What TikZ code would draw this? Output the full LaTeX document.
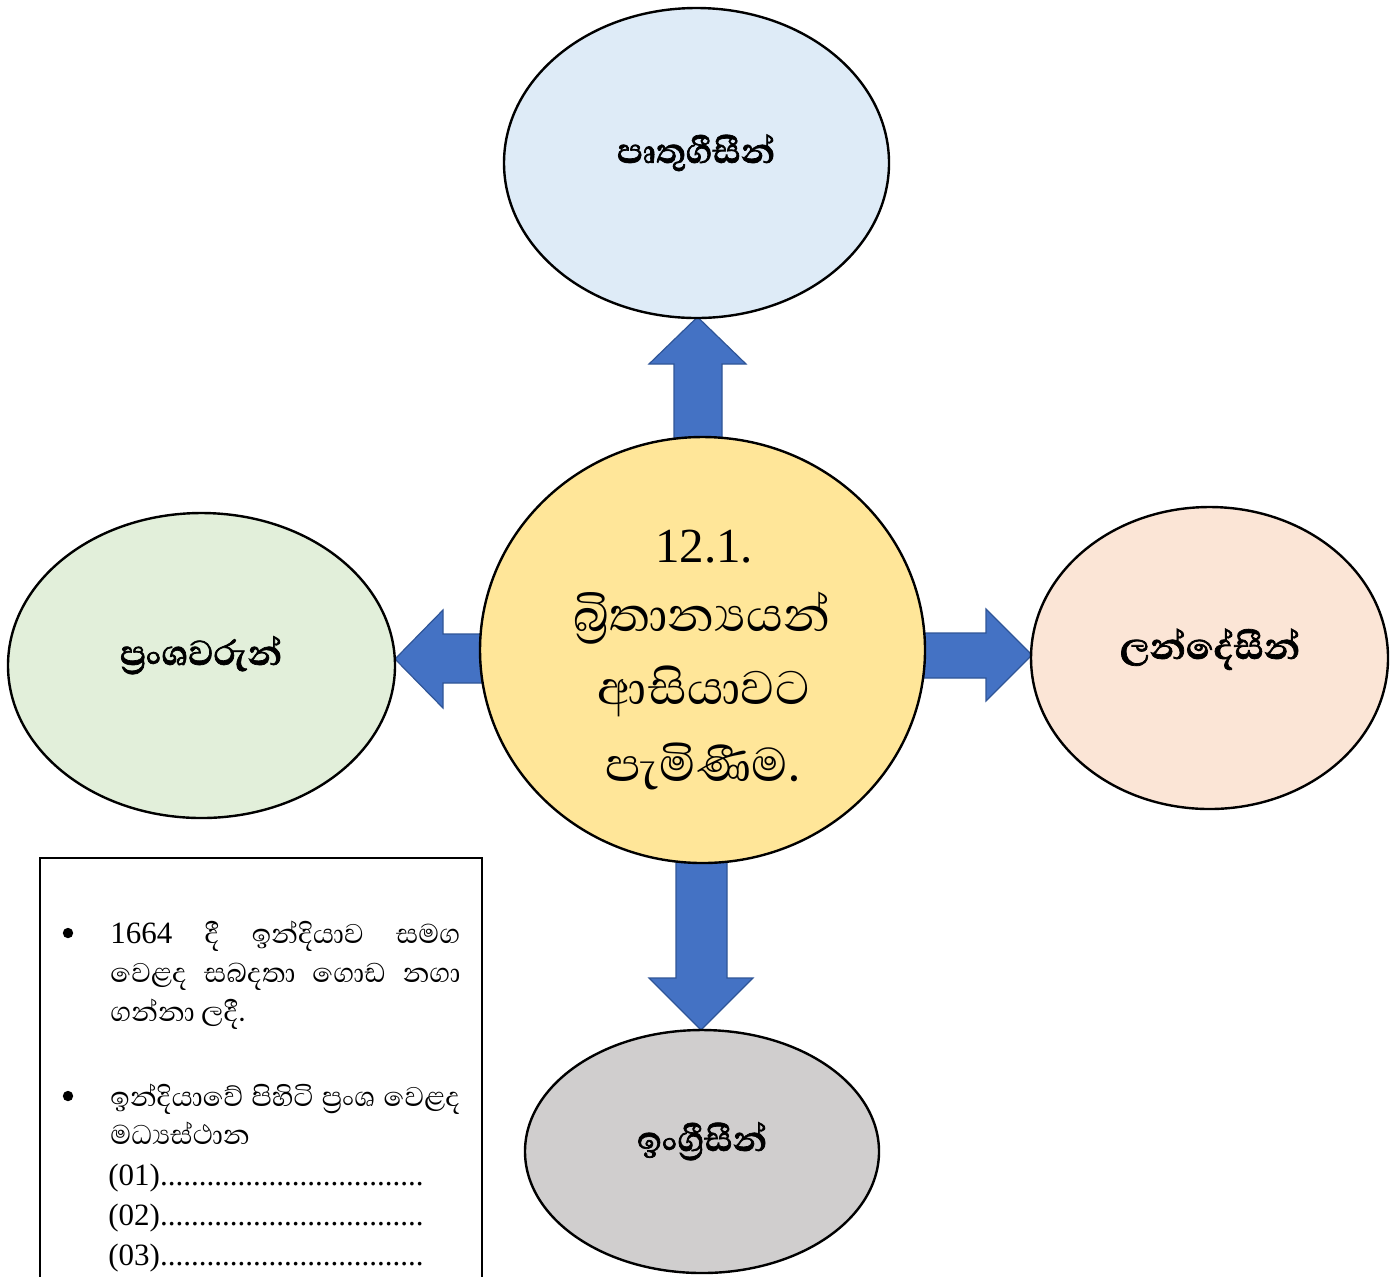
\documentclass[tikz,border=0pt]{standalone}
\usepackage{fontspec}
\usepackage{graphicx}
\usetikzlibrary{shapes.geometric}
\setmainfont{Liberation Serif}
\newfontfamily\sinf[Script=Sinhala]{Abhaya Libre}
\newfontfamily\sinbox[Script=Sinhala,Scale=1.12]{Abhaya Libre}
\newfontfamily\sinb[Script=Sinhala,BoldFeatures={FakeBold=1.6}]{Abhaya Libre}
\definecolor{cTop}{HTML}{DEEBF7}
\definecolor{cLeft}{HTML}{E2EFDA}
\definecolor{cRight}{HTML}{FBE5D6}
\definecolor{cBottom}{HTML}{D0CECE}
\definecolor{cCenter}{HTML}{FFE699}
\definecolor{cArrow}{HTML}{4472C4}
\definecolor{cArrowEdge}{HTML}{2F5597}
\tikzset{
  ell/.style={ellipse, draw=black, line width=1.2pt, inner sep=0pt},
  blockarrow/.style={fill=cArrow, draw=cArrowEdge, line width=0.6pt, line join=miter},
  lbl/.style={anchor=base, inner sep=0pt},
  boxtxt/.style={anchor=base west, inner sep=0pt, font=\fontsize{15.5}{20}\selectfont},
}
\begin{document}
\begin{tikzpicture}[x=0.5pt, y=-0.5pt]
\useasboundingbox (0,0) rectangle (1400,1276);
% block arrows (behind the circle)
\draw[blockarrow] (674,445) -- (674,364) -- (649,364) -- (697.5,317) -- (746,364) -- (722,364) -- (722,445) -- cycle;
\draw[blockarrow] (490,634) -- (443,634) -- (443,610) -- (395,659) -- (443,708) -- (443,683) -- (490,683) -- cycle;
\draw[blockarrow] (915,633) -- (986,633) -- (986,609) -- (1032,655) -- (986,701) -- (986,678) -- (915,678) -- cycle;
\draw[blockarrow] (676,855) -- (676,978) -- (649,978) -- (701,1030) -- (753,978) -- (727,978) -- (727,855) -- cycle;
% ellipses
\node[ell, fill=cTop, minimum width=192.5pt, minimum height=155pt] (top) at (696.5,163) {};
\node[ell, fill=cLeft, minimum width=193.5pt, minimum height=152.5pt] (left) at (201.5,665.5) {};
\node[ell, fill=cRight, minimum width=178.5pt, minimum height=151pt] (right) at (1209.5,658) {};
\node[ell, fill=cBottom, minimum width=177pt, minimum height=121.5pt] (bottom) at (702,1151.5) {};
\node[ell, fill=cCenter, minimum width=222.5pt, minimum height=213pt] (center) at (702.5,650) {};
% labels
\node[lbl] (ltop) at (696,163) {\resizebox{79pt}{!}{\sinb\bfseries පෘතුගීසීන්}};
\node[lbl] (lleft) at (201,665) {\resizebox{81pt}{!}{\sinb\bfseries ප්^^^^200dරංශවරුන්}};
\node[lbl] (lright) at (1210,659) {\resizebox{90pt}{!}{\sinb\bfseries ලන්දේසීන්}};
\node[lbl] (lbottom) at (702,1151) {\resizebox{65pt}{!}{\sinb\bfseries ඉංග්^^^^200dරීසීන්}};
% centre text
\node[lbl] (t1) at (704,562) {\fontsize{24.5}{30}\selectfont 12.1.};
\node[lbl] (t2) at (701.5,631) {\resizebox{128.5pt}{!}{\sinf බ්^^^^200dරිතාන්^^^^200dයයන්}};
\node[lbl] (t3) at (704,704) {\resizebox{106pt}{!}{\sinf ආසියාවට}};
\node[lbl] (t4) at (702.5,781) {\resizebox{97.5pt}{!}{\sinf පැමිණීම.}};
% text box
\draw[line width=1pt] (40,1300) -- (40,858) -- (482,858) -- (482,1300);
\fill (68,933) circle[radius=2.6pt];
\fill (68,1096) circle[radius=2.6pt];
\node[boxtxt] (b1) at (110,943) {\hbox to 175pt{1664\hfill{\sinbox දී}\hfill{\sinbox ඉන්දියාව}\hfill{\sinbox සමග}}};
\node[boxtxt] (b2) at (110,982) {\hbox to 175pt{\sinbox වෙළද\hfill සබදතා\hfill ගොඩ\hfill නගා}};
\node[boxtxt] (b3) at (110,1021) {\sinbox ගන්නා ලදී.};
\node[boxtxt] (b4) at (110,1106) {\hbox to 175pt{\sinbox ඉන්දියාවේ\hfill පිහිටි\hfill ප්^^^^200dරංශ\hfill වෙළද}};
\node[boxtxt] (b5) at (110,1144) {\sinbox මධ්^^^^200dයස්ථාන};
\node[boxtxt] (b6) at (108,1185) {(01)..................................};
\node[boxtxt] (b7) at (108,1225) {(02)..................................};
\node[boxtxt] (b8) at (108,1265) {(03)..................................};
\end{tikzpicture}
\end{document}
